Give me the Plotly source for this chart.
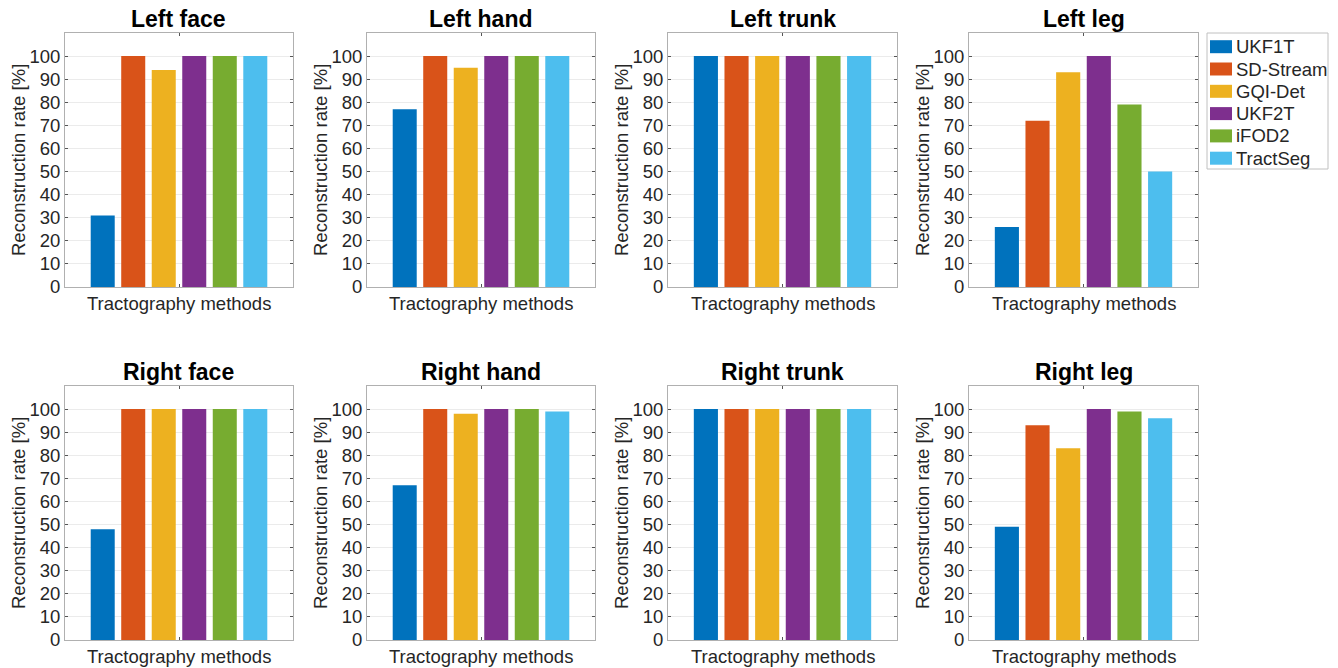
import plotly.graph_objects as go

# Tractography methods and their colours
methods = ["UKF1T", "SD-Stream", "GQI-Det", "UKF2T", "iFOD2", "TractSeg"]
colors = ["#0072BD", "#D95319", "#EDB120", "#7E2F8E", "#77AC30", "#4DBEEE"]

# Somatotopic regions (panel titles)
regions = ["Left face", "Left hand", "Left trunk", "Left leg",
           "Right face", "Right hand", "Right trunk", "Right leg"]

# Reconstruction rate [%] per method, one list per region
left_face = [31, 100, 94, 100, 100, 100]
left_hand = [77, 100, 95, 100, 100, 100]
left_trunk = [100, 100, 100, 100, 100, 100]
left_leg = [26, 72, 93, 100, 79, 50]
right_face = [48, 100, 100, 100, 100, 100]
right_hand = [67, 100, 98, 100, 100, 99]
right_trunk = [100, 100, 100, 100, 100, 100]
right_leg = [49, 93, 83, 100, 99, 96]

rates = [left_face, left_hand, left_trunk, left_leg,
         right_face, right_hand, right_trunk, right_leg]

y_ticks = list(range(0, 101, 10))
y_label = "Reconstruction rate [%]"
x_label = "Tractography methods"

W, H = 1338, 668
FONT = "Liberation Sans, Arial, Helvetica, sans-serif"
TXT = "#262626"

# panel boxes in pixels
col_px = [(65, 293), (367, 595), (668, 897), (969, 1198)]
row_px = [(33, 287), (386, 640)]

fig = go.Figure()
layout = dict(
    width=W, height=H, autosize=False,
    margin=dict(l=0, r=0, t=0, b=0, pad=0),
    paper_bgcolor="white", plot_bgcolor="white",
    barmode="group", bargap=0.197, bargroupgap=0.213,
    showlegend=False,
    font=dict(family=FONT, size=18, color=TXT),
)
annotations = []
shapes = []

for i, (region, vals) in enumerate(zip(regions, rates)):
    k = i + 1
    r, c = divmod(i, 4)
    x0, x1 = col_px[c]
    y0, y1 = row_px[r]
    xa = "x" if k == 1 else f"x{k}"
    ya = "y" if k == 1 else f"y{k}"
    for m, col, v in zip(methods, colors, vals):
        fig.add_trace(go.Bar(
            x=[1], y=[v], name=m, marker=dict(color=col, line=dict(width=0)),
            xaxis=xa, yaxis=ya, showlegend=False,
        ))
    layout[f"xaxis{k}"] = dict(
        domain=[x0 / W, x1 / W], anchor=ya, range=[0.5, 1.5],
        tickvals=[1], ticktext=[""], ticks="inside", ticklen=3,
        tickcolor="#555555", showline=True, linecolor="#b0b0b0",
        linewidth=1, mirror="ticks", showgrid=False, zeroline=False,
        fixedrange=True, automargin=False,
    )
    layout[f"yaxis{k}"] = dict(
        domain=[1 - y1 / H, 1 - y0 / H], anchor=xa, range=[0, 110],
        tickvals=y_ticks, ticks="inside", ticklen=3, tickcolor="#555555",
        showline=True, linecolor="#b0b0b0", linewidth=1, mirror="ticks",
        showgrid=True, gridcolor="#ebebeb", gridwidth=1, zeroline=False,
        tickfont=dict(size=18.5, color=TXT), fixedrange=True, automargin=False,
    )
    xc = (x0 + x1) / 2 / W
    annotations.append(dict(
        text=f"<b>{region}</b>", x=xc, y=1 - (y0 - 14) / H,
        xref="paper", yref="paper",
        xanchor="center", yanchor="middle", showarrow=False,
        font=dict(size=23, color="black", family=FONT),
    ))
    annotations.append(dict(
        text=y_label, x=(x0 - 47) / W, y=1 - (y0 + y1) / 2 / H,
        xref="paper", yref="paper", xanchor="center", yanchor="middle",
        textangle=-90, showarrow=False, font=dict(size=18.5, color=TXT),
    ))
    annotations.append(dict(
        text=x_label, x=xc, y=1 - (y1 + 16) / H, xref="paper", yref="paper",
        xanchor="center", yanchor="middle", showarrow=False,
        font=dict(size=18.5, color=TXT),
    ))

# legend box drawn with shapes
lx0, lx1, ly0, ly1 = 1207, 1328, 33, 169
shapes.append(dict(type="rect", xref="paper", yref="paper",
                   x0=lx0 / W, x1=lx1 / W, y0=1 - ly1 / H, y1=1 - ly0 / H,
                   line=dict(color="#c0c0c0", width=1), fillcolor="white"))
for j, (m, col) in enumerate(zip(methods, colors)):
    cy = 46.7 + 22.3 * j
    shapes.append(dict(type="rect", xref="paper", yref="paper",
                       x0=1210 / W, x1=1232 / W,
                       y0=1 - (cy + 6.5) / H, y1=1 - (cy - 6.5) / H,
                       line=dict(width=0), fillcolor=col))
    annotations.append(dict(
        text=m, x=1234 / W, y=1 - cy / H, xref="paper", yref="paper",
        xanchor="left", yanchor="middle", showarrow=False,
        font=dict(size=18.5, color=TXT),
    ))

layout["annotations"] = annotations
layout["shapes"] = shapes
fig.update_layout(**layout)
fig.write_html("out.html")
